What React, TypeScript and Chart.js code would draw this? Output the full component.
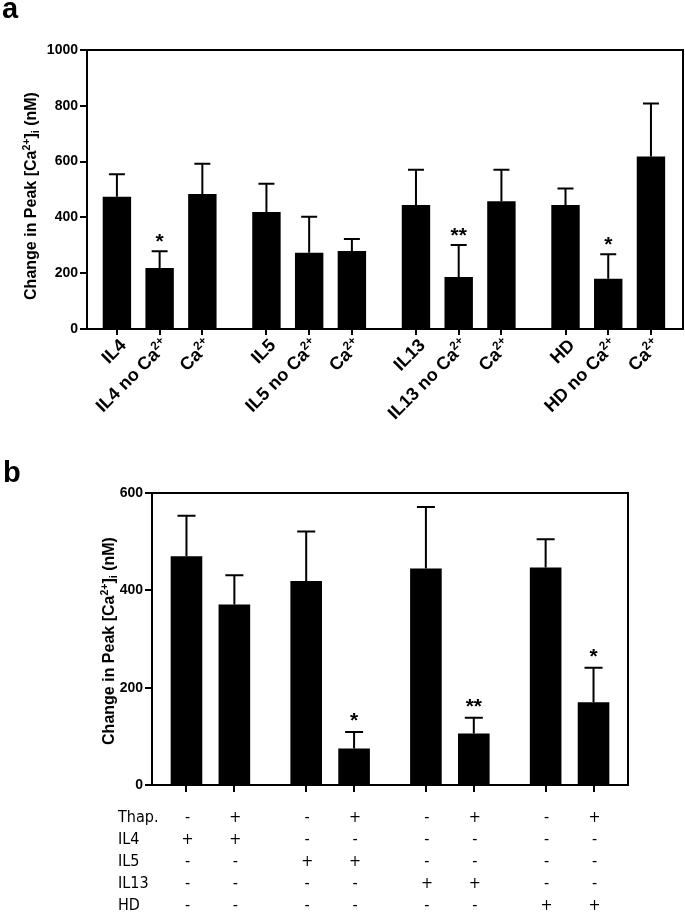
import React, { useEffect, useRef } from "react";
import { Chart, registerables } from "chart.js";
Chart.register(...registerables);

const FONT = "'Liberation Sans', Arial, 'DejaVu Sans', sans-serif";
const NARROW = "'Liberation Sans Narrow', 'Arial Narrow', 'DejaVu Sans Condensed', sans-serif";
const TITLE = "Change in Peak [Ca^{2+}]_{i} (nM)";

// ---------- Panel a data ----------
const labelsA = ["IL4", "IL4 no Ca^{2+}", "Ca^{2+}", "IL5", "IL5 no Ca^{2+}", "Ca^{2+}", "IL13", "IL13 no Ca^{2+}", "Ca^{2+}", "HD", "HD no Ca^{2+}", "Ca^{2+}"];
const groupA = [0, 0, 0, 1, 1, 1, 2, 2, 2, 3, 3, 3];
const meanA = [474, 219, 484, 419, 273, 280, 444, 186, 458, 444, 180, 618];
const errA = [555, 279, 592, 521, 402, 323, 571, 301, 571, 504, 268, 808];
const sigA = ["", "*", "", "", "", "", "", "**", "", "", "*", ""];
const yTicksA = [0, 200, 400, 600, 800, 1000];

// ---------- Panel b data ----------
const groupB = [0, 0, 1, 1, 2, 2, 3, 3];
const meanB = [470, 371, 419, 75, 445, 106, 447, 170];
const errB = [553, 431, 521, 109, 571, 138, 505, 241];
const sigB = ["", "", "", "*", "", "**", "", "*"];
const yTicksB = [0, 200, 400, 600];
const rowNames = ["Thap.", "IL4", "IL5", "IL13", "HD"];
const rowThap = ["-", "+", "-", "+", "-", "+", "-", "+"];
const rowIL4 = ["+", "+", "-", "-", "-", "-", "-", "-"];
const rowIL5 = ["-", "-", "+", "+", "-", "-", "-", "-"];
const rowIL13 = ["-", "-", "-", "-", "+", "+", "-", "-"];
const rowHD = ["-", "-", "-", "-", "-", "-", "+", "+"];
const tableRows = [rowThap, rowIL4, rowIL5, rowIL13, rowHD];

const posA = groupA.map((g, i) => i + g * 0.5);
const posB = groupB.map((g, i) => i + g * 0.5);

const HA = 455;
const HB = 459;

type Part = { t: string; k: "n" | "sup" | "sub" };
function parseRich(s: string): Part[] {
  const out: Part[] = [];
  const re = /(\^\{[^}]*\}|_\{[^}]*\})/g;
  let last = 0;
  let m: RegExpExecArray | null;
  while ((m = re.exec(s))) {
    if (m.index > last) out.push({ t: s.slice(last, m.index), k: "n" });
    out.push({ t: m[0].slice(2, -1), k: m[0][0] === "^" ? "sup" : "sub" });
    last = m.index + m[0].length;
  }
  if (last < s.length) out.push({ t: s.slice(last), k: "n" });
  return out;
}

// draws rich text with alphabetic baseline at y; align relative to x
function drawRich(ctx: CanvasRenderingContext2D, s: string, size: number, weight: string, x: number, y: number, align: "left" | "right" | "center") {
  const parts = parseRich(s);
  const small = size * 0.66;
  const fontFor = (k: string) => `${weight} ${k === "n" ? size : small}px ${FONT}`;
  let total = 0;
  const widths = parts.map((p) => {
    ctx.font = fontFor(p.k);
    const w = ctx.measureText(p.t).width;
    total += w;
    return w;
  });
  let cx = align === "left" ? x : align === "right" ? x - total : x - total / 2;
  ctx.textAlign = "left";
  ctx.textBaseline = "alphabetic";
  parts.forEach((p, i) => {
    ctx.font = fontFor(p.k);
    const dy = p.k === "sup" ? -size * 0.4 : p.k === "sub" ? size * 0.18 : 0;
    ctx.fillText(p.t, cx, y + dy);
    cx += widths[i];
  });
}

function errPlugin(errs: number[], sig: string[], cap: number, starGap: number) {
  return {
    id: "errbars",
    afterDatasetsDraw(chart: any) {
      const { ctx } = chart;
      const meta = chart.getDatasetMeta(0);
      const ys = chart.scales.y;
      ctx.save();
      ctx.strokeStyle = "#000";
      ctx.lineWidth = 2;
      meta.data.forEach((el: any, i: number) => {
        const x = el.x;
        const yTop = ys.getPixelForValue(errs[i]);
        ctx.beginPath();
        ctx.moveTo(x, el.y);
        ctx.lineTo(x, yTop);
        ctx.moveTo(x - cap, yTop);
        ctx.lineTo(x + cap, yTop);
        ctx.stroke();
        if (sig[i]) {
          ctx.fillStyle = "#000";
          ctx.font = "bold 21px " + FONT;
          ctx.textAlign = "center";
          ctx.textBaseline = "alphabetic";
          ctx.fillText(sig[i], x, yTop - starGap);
        }
      });
      ctx.restore();
    },
  };
}

function framePlugin(letter: string, lx: number, ly: number, titleX: number, titleY: number) {
  return {
    id: "frame",
    afterDraw(chart: any) {
      const { ctx, chartArea } = chart;
      ctx.save();
      ctx.strokeStyle = "#000";
      ctx.lineWidth = 2;
      ctx.beginPath();
      ctx.moveTo(chartArea.left, chartArea.top);
      ctx.lineTo(chartArea.right, chartArea.top);
      ctx.lineTo(chartArea.right, chartArea.bottom);
      ctx.stroke();
      ctx.fillStyle = "#000";
      ctx.font = "bold 29px " + FONT;
      ctx.textAlign = "left";
      ctx.textBaseline = "alphabetic";
      ctx.fillText(letter, lx, ly);
      // y-axis title
      ctx.save();
      ctx.translate(titleX, titleY);
      ctx.rotate(-Math.PI / 2);
      drawRich(ctx, TITLE, 16, "bold", 0, 5, "center");
      ctx.restore();
      ctx.restore();
    },
  };
}

const xLabelPlugin = {
  id: "xlabels",
  afterDraw(chart: any) {
    const { ctx, chartArea } = chart;
    const xs = chart.scales.x;
    ctx.save();
    ctx.fillStyle = "#000";
    posA.forEach((p, i) => {
      const x = xs.getPixelForValue(p);
      ctx.save();
      ctx.translate(x + 1, chartArea.bottom + 8);
      ctx.rotate(-Math.PI / 4);
      drawRich(ctx, labelsA[i], 18, "bold", 0, 13, "right");
      ctx.restore();
    });
    ctx.restore();
  },
};

const tablePlugin = {
  id: "table",
  afterDraw(chart: any) {
    const { ctx } = chart;
    const meta = chart.getDatasetMeta(0);
    ctx.save();
    ctx.fillStyle = "#000";
    ctx.font = "16px " + NARROW;
    ctx.textBaseline = "middle";
    rowNames.forEach((name, r) => {
      const y = 363 + r * 22;
      ctx.textAlign = "left";
      ctx.fillText(name, 118, y);
      ctx.textAlign = "center";
      tableRows[r].forEach((s, i) => {
        ctx.fillText(s, meta.data[i].x + 1, y);
      });
    });
    ctx.restore();
  },
};

function axisY(min: number, max: number, ticks: number[], width: number) {
  return {
    min,
    max,
    afterBuildTicks: (s: any) => {
      s.ticks = ticks.map((v) => ({ value: v }));
    },
    ticks: {
      font: { family: FONT, size: 14, weight: "bold" },
      color: "#000",
      padding: 2,
      callback: (v: any) => String(v),
    },
    grid: { display: true, drawOnChartArea: false, drawTicks: true, tickLength: 7, color: "#000", lineWidth: 2 },
    border: { display: true, color: "#000", width: 2 },
    title: { display: false },
    afterFit: (s: any) => {
      s.width = width;
    },
  };
}

function ChartA() {
  const ref = useRef<HTMLCanvasElement>(null);
  useEffect(() => {
    const chart = new Chart(ref.current!, {
      type: "bar",
      data: {
        datasets: [
          {
            data: posA.map((x, i) => ({ x, y: meanA[i] })),
            backgroundColor: "#000",
            borderWidth: 0,
            barPercentage: 0.665,
            categoryPercentage: 1,
          },
        ],
      },
      options: {
        animation: false,
        responsive: false,
        layout: { padding: { top: 50, right: 2, left: 0, bottom: 0 } },
        plugins: { legend: { display: false }, tooltip: { enabled: false } },
        scales: {
          x: {
            type: "linear",
            offset: false,
            min: -0.7,
            max: 13.25,
            afterBuildTicks: (s: any) => {
              s.ticks = posA.map((v) => ({ value: v }));
            },
            ticks: { display: false },
            grid: { display: true, offset: false, drawOnChartArea: false, drawTicks: true, tickLength: 6, color: "#000", lineWidth: 2 },
            border: { display: true, color: "#000", width: 2 },
            afterFit: (s: any) => {
              s.height = HA - 329;
            },
          },
          y: axisY(0, 1000, yTicksA, 87),
        },
      } as any,
      plugins: [errPlugin(errA, sigA, 8, 3), framePlugin("a", 2, 18, 31, 196), xLabelPlugin],
    });
    return () => chart.destroy();
  }, []);
  return <canvas ref={ref} width={685} height={HA} style={{ position: "absolute", left: 0, top: 0 }} />;
}

function ChartB() {
  const ref = useRef<HTMLCanvasElement>(null);
  useEffect(() => {
    const chart = new Chart(ref.current!, {
      type: "bar",
      data: {
        datasets: [
          {
            data: posB.map((x, i) => ({ x, y: meanB[i] })),
            backgroundColor: "#000",
            borderWidth: 0,
            barPercentage: 0.66,
            categoryPercentage: 1,
          },
        ],
      },
      options: {
        animation: false,
        responsive: false,
        layout: { padding: { top: 38, right: 57, left: 0, bottom: 0 } },
        plugins: { legend: { display: false }, tooltip: { enabled: false } },
        scales: {
          x: {
            type: "linear",
            offset: false,
            min: -0.72,
            max: 9.22,
            afterBuildTicks: (s: any) => {
              s.ticks = posB.map((v) => ({ value: v }));
            },
            ticks: { display: false },
            grid: { display: true, offset: false, drawOnChartArea: false, drawTicks: true, tickLength: 7, color: "#000", lineWidth: 2 },
            border: { display: true, color: "#000", width: 2 },
            afterFit: (s: any) => {
              s.height = HB - 330;
            },
          },
          y: axisY(0, 600, yTicksB, 152),
        },
      } as any,
      plugins: [errPlugin(errB, sigB, 9, 5), framePlugin("b", 3, 27, 109, 186), tablePlugin],
    });
    return () => chart.destroy();
  }, []);
  return <canvas ref={ref} width={685} height={HB} style={{ position: "absolute", left: 0, top: HA }} />;
}

export default function App() {
  return (
    <div style={{ position: "absolute", left: 0, top: 0, width: 685, height: 914, background: "#fff" }}>
      <ChartA />
      <ChartB />
    </div>
  );
}
